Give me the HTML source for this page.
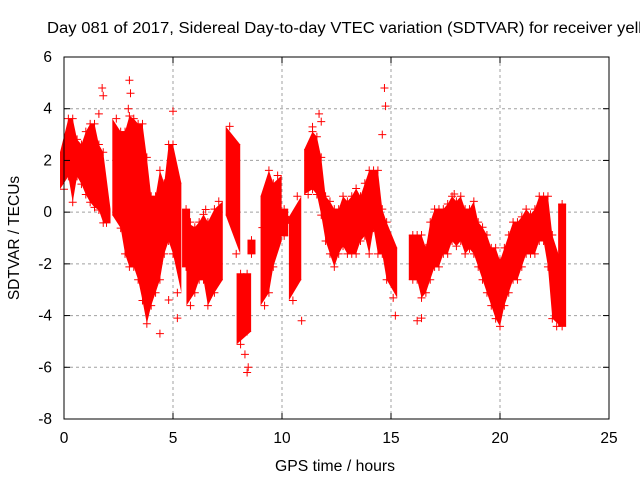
<!DOCTYPE html>
<html><head><meta charset="utf-8"><style>
body{margin:0;background:#fff}
svg{display:block;font-family:"Liberation Sans",sans-serif}
</style></head><body>
<svg id="chart" width="640" height="480">
<rect width="640" height="480" fill="#fff"/>
<text x="47" y="33" font-size="15.5" textLength="595" lengthAdjust="spacingAndGlyphs" fill="#000">Day 081 of 2017, Sidereal Day-to-day VTEC variation (SDTVAR) for receiver yell</text>
<g id="grid"></g>
<g id="bands"></g>
<g id="pts"></g>
<rect x="64" y="57" width="545" height="362" fill="none" stroke="#000" stroke-width="1"/>
<g id="ticks"></g>
<text x="335" y="471" font-size="15.5" textLength="120" lengthAdjust="spacingAndGlyphs" text-anchor="middle">GPS time / hours</text>
<text transform="translate(19,238) rotate(-90)" font-size="15.5" text-anchor="middle">SDTVAR / TECUs</text>
</svg>
<script>
const xTicks=[0,5,10,15,20,25];
const yTicks=[6,4,2,0,-2,-4,-6,-8];
// cloud envelopes: segment id, time (h), low, high
const segIds=[0,0,0,0,0,0,0,0,0,0,0, 1,1,1,1,1,1,1,1,1,1,1,1,1,1,1, 2, 3,3,3,3,3,3,3, 4,4, 5,5, 6, 7,7,7,7, 8, 9,9, 10,10,10,10,10,10,10,10,10,10,10,10,10,10,10,10,10,10,10,10, 11,11,11,11,11,11,11,11,11,11,11,11,11,11,11,11,11,11,11,11,11,11,11,11,11,11,11,11,11,11,11,11,11,11];
const times=[0.0,0.2,0.4,0.6,0.8,1.0,1.2,1.4,1.6,1.8,1.95, 2.4,2.6,2.8,3.0,3.2,3.4,3.6,3.8,4.0,4.2,4.4,4.6,4.8,5.0,5.2, 5.6, 5.8,6.0,6.2,6.4,6.6,6.9,7.1, 7.6,7.9, 8.1,8.4, 8.6, 9.2,9.4,9.6,9.8, 10.1, 10.5,10.7, 11.2,11.4,11.6,11.8,12.0,12.2,12.4,12.6,12.8,13.0,13.2,13.4,13.6,13.8,14.0,14.2,14.4,14.6,14.8,15.1, 16.0,16.2,16.4,16.6,16.8,17.0,17.2,17.4,17.6,17.8,18.0,18.2,18.4,18.6,18.8,19.0,19.2,19.4,19.6,19.8,20.0,20.2,20.4,20.6,20.8,21.0,21.2,21.4,21.6,21.8,22.0,22.2,22.4,22.6,22.85];
const lows=[1.0,1.5,0.5,1.5,1.2,0.8,0.5,0.3,0.2,-0.3,-0.3, 0.0,-0.5,-1.5,-2.0,-2.0,-2.5,-3.3,-4.2,-3.5,-3.0,-2.5,-1.5,-1.0,-1.5,-3.0, -2.0, -3.5,-3.0,-2.5,-2.5,-3.5,-3.0,-2.5, 0.0,-1.5, -5.0,-4.5, -1.5, -3.5,-3.0,-2.0,-1.0, -0.8, -3.3,-2.5, 0.8,1.0,0.8,0.0,-1.0,-1.5,-2.0,-1.5,-1.2,-1.5,-1.5,-1.5,-1.0,-0.8,-1.5,-0.5,-1.5,-1.5,-2.5,-3.2, -2.5,-2.5,-3.2,-3.0,-2.5,-2.0,-2.0,-1.5,-1.5,-1.0,-1.2,-1.0,-1.5,-1.3,-1.5,-2.0,-2.5,-3.0,-3.5,-4.0,-4.3,-3.5,-3.0,-2.5,-2.5,-2.0,-1.5,-1.5,-1.5,-1.0,-1.0,-2.0,-4.0,-4.3,-4.3];
const highs=[2.2,3.5,3.5,2.7,2.5,3.0,3.3,3.3,2.5,2.2,0.0, 3.5,3.0,3.0,3.6,3.5,3.3,3.3,2.0,0.5,0.5,1.5,1.0,2.5,2.5,1.0, 0.0, -0.5,-0.7,-0.5,-0.2,-0.5,0.0,0.3, 3.2,2.5, -2.5,-2.5, -1.2, 0.5,1.5,1.0,1.3, 0.0, -0.3,0.5, 2.3,3.0,2.8,2.0,0.5,0.3,0.0,0.0,0.5,0.3,0.5,0.8,0.5,1.0,1.5,1.5,1.5,0.0,-0.5,-1.5, -1.0,-1.0,-1.0,-1.5,-0.5,0.0,0.0,0.0,0.2,0.5,0.3,0.5,0.0,0.0,0.3,-0.5,-0.7,-1.0,-1.5,-1.5,-2.0,-1.5,-1.0,-0.5,-0.5,-0.3,0.0,-0.2,0.0,0.5,0.5,0.5,-1.0,-2.0,0.2];
// isolated points
const outT=[1.75,1.8,3.0,3.05,2.95,5.0,5.2,4.4,6.5,8.4,8.45,9.1,10.3,10.9,11.4,11.7,11.8,14.7,14.75,14.6,15.2,12.8,16.2,16.4,17.9,4.8,1.6,8.3];
const outV=[4.8,4.5,5.1,4.6,4.0,3.9,-4.1,-4.7,0.1,-6.2,-6.0,-0.6,-0.3,-4.2,3.3,3.8,3.5,4.8,4.1,3.0,-4.0,-0.4,-4.2,-4.1,0.7,-3.4,3.8,-5.5];
const NS='http://www.w3.org/2000/svg';
const X0=64,X1=609,Y0=419,Y1=57;
const sx=t=>X0+(t-0)/25*(X1-X0);
const sy=v=>Y0-(v+8)/14*(Y0-Y1);
const grid=document.getElementById('grid'),ticks=document.getElementById('ticks');
function mk(tag,attrs,parent){const e=document.createElementNS(NS,tag);for(const k in attrs)e.setAttribute(k,attrs[k]);parent.appendChild(e);return e;}
xTicks.forEach(t=>{const x=sx(t);
 if(t>0&&t<25){const g=mk('line',{x1:x,x2:x,y1:Y1,y2:Y0,stroke:'#a0a0a0','stroke-dasharray':'3,3'},grid);
 
 }
 const l=mk('text',{x:x,y:443,'font-size':'15.5','text-anchor':'middle'},ticks);l.textContent=t;
 
 
 mk('line',{x1:x,x2:x,y1:Y0,y2:Y0-6,stroke:'#000'},ticks);mk('line',{x1:x,x2:x,y1:Y1,y2:Y1+6,stroke:'#000'},ticks);});
yTicks.forEach(v=>{const y=sy(v);
 if(v>-8&&v<6){const g=mk('line',{x1:X0,x2:X1,y1:y,y2:y,stroke:'#a0a0a0','stroke-dasharray':'3,3'},grid);
 
 }
 const l=mk('text',{x:52,y:y+5,'font-size':'15.5','text-anchor':'end'},ticks);l.textContent=v;
 
 
 mk('line',{x1:X0,x2:X0+6,y1:y,y2:y,stroke:'#000'},ticks);mk('line',{x1:X1,x2:X1-6,y1:y,y2:y,stroke:'#000'},ticks);});
const bands=document.getElementById('bands'),pts=document.getElementById('pts');
const segs={};
times.forEach((t,i)=>{(segs[segIds[i]]=segs[segIds[i]]||[]).push(i);});
Object.keys(segs).forEach(k=>{const idx=segs[k];
 let top=idx.map(i=>[sx(times[i]),sy(highs[i])-3]);
 let bot=idx.slice().reverse().map(i=>[sx(times[i]),sy(lows[i])+3]);
 if(idx.length===1){const x=top[0][0];top=[[x-4,top[0][1]],[x+4,top[0][1]]];bot=[[x+4,bot[0][1]],[x-4,bot[0][1]]];}
 else{top[0][0]-=4;top[top.length-1][0]+=4;bot[0][0]+=4;bot[bot.length-1][0]-=4;}
 const p=mk('polygon',{points:top.concat(bot).map(q=>q.join(',')).join(' '),fill:'#ff0000'},bands);
 
 
 idx.forEach(i=>{[highs[i],lows[i]].forEach(v=>{const x=sx(times[i]),y=sy(v)+(v===highs[i]?-3:3);
  const c=mk('path',{d:`M${x-4},${y}h8M${x},${y-4}v8`,stroke:'#f00','stroke-width':'1'},pts);
  
  });});
});
outT.forEach((t,i)=>{const x=sx(t),y=sy(outV[i]);
 const c=mk('path',{d:`M${x-4},${y}h8M${x},${y-4}v8`,stroke:'#f00','stroke-width':'1'},pts);
 
 });
</script>
</body></html>
